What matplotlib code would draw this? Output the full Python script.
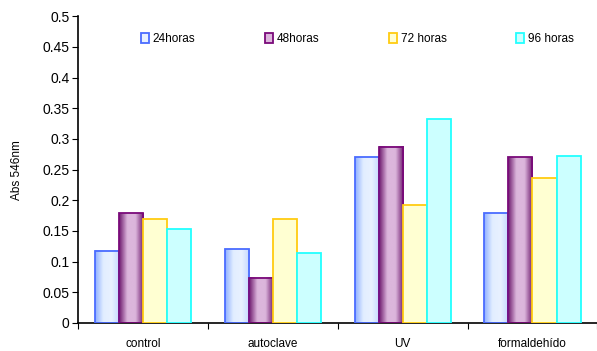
import numpy as np
import matplotlib
matplotlib.use("Agg")
import matplotlib.pyplot as plt
from matplotlib.colors import LinearSegmentedColormap

plt.rcParams['font.family'] = ['Liberation Sans', 'DejaVu Sans']

categorias = ['control', 'autoclave', 'UV', 'formaldehído']
series = ['24horas', '48horas', '72 horas', '96 horas']
h24 = [0.118, 0.120, 0.270, 0.179]
h48 = [0.179, 0.074, 0.287, 0.270]
h72 = [0.169, 0.170, 0.192, 0.236]
h96 = [0.153, 0.114, 0.332, 0.272]
valores = [h24, h48, h72, h96]

bordes = ['#4a6cff', '#7a0a7a', '#ffcc11', '#22ffff']
# gradient fill for first two series, flat fill for the others
rellenos = [
    ['#8fb0ff', '#e2eeff', '#e8f1ff', '#c4d8ff'],
    ['#6e1a6e', '#dcb6dc', '#dcb6dc', '#6e1a6e'],
    ['#ffffd2'],
    ['#ccffff'],
]

fig = plt.figure(figsize=(5.97, 3.51), dpi=100)
ax = fig.add_axes([0.1307, 0.0798, 0.87, 0.8742])

x = np.arange(len(categorias))
ancho = 0.185
for i, (vals, borde, rell) in enumerate(zip(valores, bordes, rellenos)):
    pos = x - 1.5 * ancho + i * ancho
    for xp, v in zip(pos, vals):
        x0, x1 = xp - ancho / 2, xp + ancho / 2
        if len(rell) > 1:
            cmap = LinearSegmentedColormap.from_list('g%d' % i, rell)
            grad = np.linspace(0, 1, 64).reshape(1, -1)
            ax.imshow(grad, cmap=cmap, extent=(x0, x1, 0, v), aspect='auto',
                      origin='lower', zorder=2, interpolation='bicubic')
            ax.bar(xp, v, ancho, facecolor='none', edgecolor=borde,
                   linewidth=1.3, zorder=3)
        else:
            ax.bar(xp, v, ancho, facecolor=rell[0], edgecolor=borde,
                   linewidth=1.3, zorder=3)
    ax.bar(0, 0, 0, facecolor=rell[len(rell) // 2], edgecolor=borde,
           linewidth=1.3, label=series[i])

ax.set_xlim(-0.5, len(categorias) - 0.5)
ax.set_ylim(0, 0.5)
ax.set_yticks(np.arange(0, 0.51, 0.05))
ax.set_yticklabels(['0', '0.05', '0.1', '0.15', '0.2', '0.25', '0.3',
                    '0.35', '0.4', '0.45', '0.5'], fontsize=10)
ax.set_xticks(np.arange(-0.5, len(categorias), 1.0))
ax.set_xticklabels([])
ax.set_xticks(x, minor=True)
ax.set_xticklabels(categorias, minor=True, fontsize=8.5)
ax.tick_params(axis='x', which='minor', length=0, pad=11)
ax.tick_params(axis='x', which='major', length=4, direction='out')
ax.tick_params(axis='y', length=4, direction='out', pad=2)
for s in ['top', 'right']:
    ax.spines[s].set_visible(False)
ax.spines['left'].set_linewidth(1.2)
ax.spines['bottom'].set_linewidth(1.2)
ax.set_ylabel('Abs 546nm', fontsize=8.5, labelpad=14)

ax.legend(loc='upper left', bbox_to_anchor=(0.1, 0.98), ncol=4, frameon=False,
          fontsize=8.5, handlelength=0.7, handleheight=0.9, handletextpad=0.3,
          columnspacing=5.9)

fig.savefig('out.png', dpi=100)
